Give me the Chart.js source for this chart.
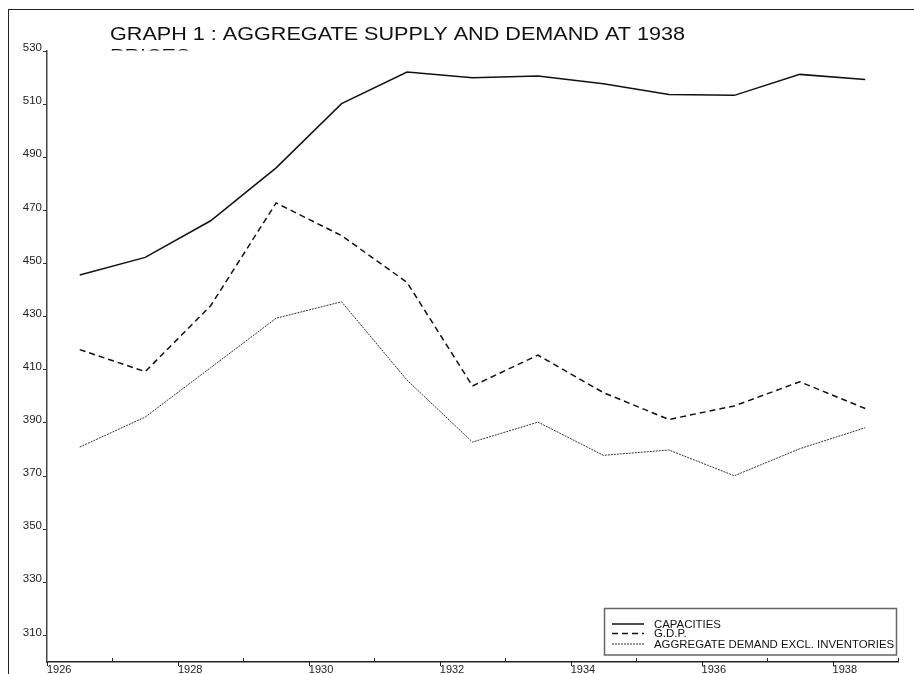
<!DOCTYPE html>
<html>
<head>
<meta charset="utf-8">
<script src="https://cdn.jsdelivr.net/npm/chart.js@4/dist/chart.umd.min.js"></script>
<style>
  body { margin: 0; background: #fff; }
  #wrap { width: 914px; height: 674px; }
</style>
</head>
<body>
<div id="wrap"><canvas id="c" width="914" height="674"></canvas></div>
<script>
// annual values, 1926-1938 (at 1938 prices)
const years = [1926, 1927, 1928, 1929, 1930, 1931, 1932, 1933, 1934, 1935, 1936, 1937, 1938];
const capacities = [445.7, 452.3, 466.1, 486.0, 510.2, 522.1, 519.9, 520.6, 517.7, 513.6, 513.3, 521.2, 519.3];
const gdp = [417.6, 409.3, 434.1, 472.8, 460.5, 442.9, 403.9, 415.5, 401.4, 391.3, 396.4, 405.5, 395.4];
const demandExclInv = [380.9, 392.2, 410.8, 429.4, 435.6, 406.1, 382.8, 390.3, 377.8, 379.8, 370.1, 380.3, 388.2];

const yTicks = [310, 330, 350, 370, 390, 410, 430, 450, 470, 490, 510, 530];
const titleLines = ['GRAPH 1 : AGGREGATE SUPPLY AND DEMAND AT 1938', 'PRICES'];
const seriesNames = ['CAPACITIES', 'G.D.P.', 'AGGREGATE DEMAND EXCL. INVENTORIES'];

const FONT = '"Liberation Sans", Arial, sans-serif';

// each yearly value is plotted in the middle of its year
function toPoints(vals) {
    return vals.map((v, i) => ({ x: years[i] + 0.5, y: v }));
}

// frame + title (second line is hidden behind the plot, only its top shows)
const frameTitle = {
    id: 'frameTitle',
    beforeDraw(chart) {
        const ctx = chart.ctx;
        ctx.save();
        ctx.strokeStyle = '#222';
        ctx.lineWidth = 1;
        ctx.strokeRect(8.5, 9.5, 1200, 1200);
        ctx.beginPath();
        ctx.rect(0, 0, chart.width, 50.4);
        ctx.clip();
        // title text is a bit stretched horizontally in the original
        ctx.translate(110, 0);
        ctx.scale(1.2, 1);
        ctx.fillStyle = '#111';
        ctx.font = '18px ' + FONT;
        ctx.textBaseline = 'alphabetic';
        ctx.fillText(titleLines[0], 0, 39.5);
        ctx.fillText(titleLines[1], 0, 61.5);
        ctx.restore();
    }
};

// x ticks: labelled years point down, others point up
const xTickMarks = {
    id: 'xTickMarks',
    afterDraw(chart) {
        const sc = chart.scales.x;
        const ctx = chart.ctx;
        ctx.save();
        ctx.strokeStyle = '#222';
        ctx.lineWidth = 1;
        sc.ticks.forEach(t => {
            const px = Math.round(sc.getPixelForValue(t.value)) + 0.5;
            ctx.beginPath();
            ctx.moveTo(px, sc.top);
            ctx.lineTo(px, t.value % 2 === 0 ? sc.top + 4 : sc.top - 4);
            ctx.stroke();
        });
        ctx.restore();
    }
};

// legend box in the bottom right corner
const boxLegend = {
    id: 'boxLegend',
    afterDraw(chart) {
        const ctx = chart.ctx;
        const x0 = 604.5, y0 = 608.5, w = 292, h = 46.5;
        ctx.save();
        ctx.fillStyle = '#fff';
        ctx.fillRect(x0, y0, w, h);
        ctx.strokeStyle = '#666';
        ctx.lineWidth = 1.5;
        ctx.strokeRect(x0, y0, w, h);
        const rows = [624, 633.5, 644];
        ctx.font = '11.4px ' + FONT;
        ctx.textBaseline = 'middle';
        chart.data.datasets.forEach((ds, i) => {
            ctx.strokeStyle = ds.borderColor;
            ctx.lineWidth = ds.borderWidth;
            ctx.setLineDash(ds.borderDash || []);
            ctx.beginPath();
            ctx.moveTo(612, rows[i]);
            ctx.lineTo(644, rows[i]);
            ctx.stroke();
            ctx.setLineDash([]);
            ctx.fillStyle = '#111';
            ctx.fillText(ds.label, 654, rows[i] + 0.5);
        });
        ctx.restore();
    }
};

new Chart(document.getElementById('c').getContext('2d'), {
    type: 'line',
    data: {
        datasets: [
            { label: seriesNames[0], data: toPoints(capacities), borderColor: '#111', borderWidth: 1.5 },
            { label: seriesNames[1], data: toPoints(gdp), borderColor: '#111', borderWidth: 1.5, borderDash: [6, 4] },
            { label: seriesNames[2], data: toPoints(demandExclInv), borderColor: '#333', borderWidth: 1, borderDash: [2, 1] }
        ]
    },
    options: {
        responsive: false,
        animation: false,
        events: [],
        layout: { padding: { top: 51, right: 16, left: 0, bottom: 0 } },
        elements: {
            point: { radius: 0 },
            line: { tension: 0, fill: false }
        },
        scales: {
            x: {
                type: 'linear',
                min: 1926,
                max: 1939,
                afterFit(scale) { scale.height = 12; },
                border: { display: true, color: '#222', width: 1.5 },
                grid: { display: true, drawOnChartArea: false, drawTicks: false },
                ticks: {
                    stepSize: 1,
                    autoSkip: false,
                    maxRotation: 0,
                    align: 'start',
                    padding: 1,
                    color: '#222',
                    font: { family: FONT, size: 11 },
                    callback: v => (v % 2 === 0 ? String(v) : '')
                }
            },
            y: {
                type: 'linear',
                min: 300,
                max: 530,
                afterFit(scale) { scale.width = 47; },
                afterBuildTicks(scale) { scale.ticks = yTicks.map(v => ({ value: v })); },
                border: { display: true, color: '#444', width: 1.5 },
                grid: { display: true, drawOnChartArea: false, drawTicks: true, tickLength: 4, color: '#333' },
                ticks: {
                    padding: 1,
                    labelOffset: -3,
                    color: '#222',
                    font: { family: FONT, size: 11.5 }
                }
            }
        },
        plugins: {
            legend: { display: false },
            tooltip: { enabled: false },
            title: { display: false }
        }
    },
    plugins: [frameTitle, xTickMarks, boxLegend]
});
</script>
</body>
</html>
